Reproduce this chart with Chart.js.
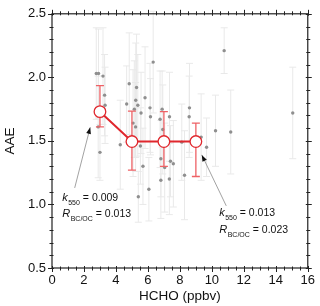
<!DOCTYPE html>
<html>
<head>
<meta charset="utf-8">
<script src="https://cdn.jsdelivr.net/npm/chart.js@4"></script>
<style>
  html, body { margin: 0; padding: 0; background: #fff; }
  #wrap { width: 320px; height: 306px; position: relative; }
</style>
</head>
<body>
<div id="wrap"><canvas id="chart"></canvas></div>
<script>
// ─── Data ─────────────────────────────────────────────────────

// individual samples (gray points with error bars)
const sampleX = [2.77, 2.91, 3.19, 3.29, 3.32, 2.89, 3.0, 4.83, 5.29, 4.67,
  5.24, 5.37, 5.15, 5.07, 5.23, 5.53, 4.27, 5.82, 6.13, 6.16,
  6.33, 5.57, 6.89, 6.76, 6.93, 7.35, 8.60, 8.58, 10.23, 11.18,
  9.33, 9.67, 8.12, 10.77, 15.06, 6.81, 7.41, 7.59, 7.05, 6.81,
  7.34, 8.29, 6.06, 5.69, 5.40];
const sampleY = [2.03, 2.03, 2.01, 1.86, 1.78, 1.61, 1.41, 1.95, 1.92, 1.79,
  1.82, 1.78, 1.75, 1.64, 1.61, 1.46, 1.47, 1.84, 1.76, 1.69,
  2.12, 1.72, 1.75, 1.67, 1.59, 1.69, 1.76, 1.69, 1.58, 1.57,
  1.53, 1.45, 1.49, 2.21, 1.72, 1.36, 1.34, 1.32, 1.29, 1.19,
  1.20, 1.23, 1.12, 1.30, 1.06];
const sampleErr = [0.36, 0.35, 0.38, 0.32, 0.30, 0.40, 0.22, 0.40, 0.42, 0.30,
  0.45, 0.40, 0.38, 0.42, 0.35, 0.30, 0.35, 0.40, 0.35, 0.30,
  0.40, 0.32, 0.30, 0.38, 0.35, 0.35, 0.35, 0.32, 0.28, 0.33,
  0.34, 0.23, 0.30, 0.18, 0.36, 0.30, 0.28, 0.34, 0.35, 0.30,
  0.28, 0.35, 0.25, 0.30, 0.20];

// binned means (red)
const binX = [3, 5, 7, 9];
const binY = [1.73, 1.495, 1.495, 1.495];
const binHigh = [1.935, 1.735, 1.73, 1.64];
const binLow = [1.61, 1.27, 1.30, 1.22];

// axis ranges / ticks
const xMin = 0, xMax = 16, xMajor = 2, xMinor = 0.5;
const yMin = 0.5, yMax = 2.5, yMajor = 0.5, yMinor = 0.1;

// annotations: text position (data units), values, arrow tail/head
const notes = [
  { x: 0.64, y1: 1.027, y2: 0.898, k: "0.009", r: "0.013", tail: [1.42, 1.13], head: [2.39, 1.607] },
  { x: 10.46, y1: 0.906, y2: 0.775, k: "0.013", r: "0.023", tail: [10.9, 0.989], head: [9.37, 1.39] },
];

const FONT = "'Liberation Sans', Arial, sans-serif";
const RED = "#e0272d";
const RED_BAR = "#ee6266";

// ─── Plugins ──────────────────────────────────────────────────

function vbar(ctx, x, yTop, yBot, cap) {
  ctx.beginPath();
  ctx.moveTo(x, yTop); ctx.lineTo(x, yBot);
  ctx.moveTo(x - cap, yTop); ctx.lineTo(x + cap, yTop);
  ctx.moveTo(x - cap, yBot); ctx.lineTo(x + cap, yBot);
  ctx.stroke();
}

const errorBars = {
  id: "errorBars",
  beforeDatasetsDraw(chart) {
    const { ctx, scales: { x, y } } = chart;
    ctx.save();
    ctx.strokeStyle = "#e9e9e9";
    ctx.lineWidth = 1;
    sampleX.forEach((v, i) => {
      vbar(ctx, x.getPixelForValue(v),
        y.getPixelForValue(sampleY[i] + sampleErr[i]),
        y.getPixelForValue(sampleY[i] - sampleErr[i]), 3.5);
    });
    ctx.restore();
  },
  afterDatasetDraw(chart, args) {
    if (args.index !== 1) return;
    const { ctx, scales: { x, y } } = chart;
    ctx.save();
    ctx.strokeStyle = RED_BAR;
    ctx.lineWidth = 1.3;
    binX.forEach((v, i) => {
      vbar(ctx, x.getPixelForValue(v),
        y.getPixelForValue(binHigh[i]), y.getPixelForValue(binLow[i]), 4);
    });
    ctx.restore();
  },
};

const frameTicks = {
  id: "frameTicks",
  afterDraw(chart) {
    const { ctx, chartArea: a, scales: { x, y } } = chart;
    ctx.save();
    ctx.strokeStyle = "#222";
    ctx.lineWidth = 1.2;
    ctx.strokeRect(a.left, a.top, a.right - a.left, a.bottom - a.top);
    ctx.lineWidth = 1;
    ctx.beginPath();
    for (let v = xMin; v <= xMax + 1e-6; v += xMinor) {
      const px = Math.round(x.getPixelForValue(v)) + 0.5;
      const major = Math.abs(v / xMajor - Math.round(v / xMajor)) < 1e-6;
      const o = major ? 4 : 2.5, inn = major ? 2 : 1.5;
      ctx.moveTo(px, a.bottom + o); ctx.lineTo(px, a.bottom - inn);
      ctx.moveTo(px, a.top - o); ctx.lineTo(px, a.top + inn);
    }
    for (let v = yMin; v <= yMax + 1e-6; v += yMinor) {
      const py = Math.round(y.getPixelForValue(v)) + 0.5;
      const major = Math.abs(v / yMajor - Math.round(v / yMajor)) < 1e-6;
      const o = major ? 4 : 2.5, inn = major ? 2 : 1.5;
      ctx.moveTo(a.left - o, py); ctx.lineTo(a.left + inn, py);
      ctx.moveTo(a.right + o, py); ctx.lineTo(a.right - inn, py);
    }
    ctx.stroke();

    // annotations
    notes.forEach((n) => {
      const tx = x.getPixelForValue(n.tail[0]), ty = y.getPixelForValue(n.tail[1]);
      const hx = x.getPixelForValue(n.head[0]), hy = y.getPixelForValue(n.head[1]);
      ctx.strokeStyle = "#8a8a8a";
      ctx.lineWidth = 0.8;
      ctx.beginPath(); ctx.moveTo(tx, ty); ctx.lineTo(hx, hy); ctx.stroke();
      const ang = Math.atan2(hy - ty, hx - tx);
      ctx.fillStyle = "#111";
      ctx.beginPath();
      ctx.moveTo(hx, hy);
      ctx.lineTo(hx - 7 * Math.cos(ang - 0.35), hy - 7 * Math.sin(ang - 0.35));
      ctx.lineTo(hx - 7 * Math.cos(ang + 0.35), hy - 7 * Math.sin(ang + 0.35));
      ctx.closePath(); ctx.fill();

      const lx = x.getPixelForValue(n.x);
      drawNote(ctx, lx, y.getPixelForValue(n.y1), "k", "550", " = " + n.k);
      drawNote(ctx, lx, y.getPixelForValue(n.y2), "R", "BC/OC", " = " + n.r);
    });
    ctx.restore();
  },
};

function drawNote(ctx, x, base, sym, sub, rest) {
  ctx.fillStyle = "#111";
  ctx.textBaseline = "alphabetic";
  ctx.textAlign = "left";
  ctx.font = "italic 11px " + FONT;
  ctx.fillText(sym, x, base);
  let cx = x + ctx.measureText(sym).width + 0.5;
  ctx.font = "7px " + FONT;
  ctx.fillText(sub, cx, base + 3.5);
  cx += ctx.measureText(sub).width;
  ctx.font = "10.5px " + FONT;
  ctx.fillText(rest, cx, base);
}

// ─── Chart ────────────────────────────────────────────────────

const ctx = document.getElementById("chart").getContext("2d");
new Chart(ctx, {
  type: "scatter",
  data: {
    datasets: [
      {
        data: binX.map((v, i) => ({ x: v, y: binY[i] })),
        showLine: true,
        borderColor: RED,
        borderWidth: 2,
        pointRadius: 5.8,
        pointBackgroundColor: "#fff",
        pointBorderColor: RED,
        pointBorderWidth: 1.3,
      },
      {
        data: sampleX.map((v, i) => ({ x: v, y: sampleY[i] })),
        pointRadius: 1.7,
        pointBackgroundColor: "#8f8f8f",
        pointBorderWidth: 0,
      },
    ],
  },
  options: {
    responsive: true,
    maintainAspectRatio: false,
    animation: false,
    events: [],
    layout: { padding: { top: 9, right: 9.5, left: 0, bottom: 0 } },
    plugins: { legend: { display: false }, tooltip: { enabled: false } },
    scales: {
      x: {
        type: "linear",
        min: xMin, max: xMax,
        grid: { display: false, drawTicks: false },
        border: { display: false },
        ticks: { stepSize: xMajor, color: "#111", font: { family: FONT, size: 13 }, padding: 5, maxRotation: 0 },
        title: { display: true, text: "HCHO (ppbv)", color: "#111", font: { family: FONT, size: 13.5 }, padding: { top: 0, bottom: 2 } },
        afterFit: (s) => { s.height = 38; },
      },
      y: {
        type: "linear",
        min: yMin, max: yMax,
        grid: { display: false, drawTicks: false },
        border: { display: false },
        ticks: { stepSize: yMajor, color: "#111", font: { family: FONT, size: 13 }, padding: 6,
          callback: (v) => v.toFixed(1) },
        title: { display: true, text: "AAE", color: "#111", font: { family: FONT, size: 13.5 }, padding: { top: 2, bottom: 0 } },
        afterFit: (s) => { s.width = 52; },
      },
    },
  },
  plugins: [errorBars, frameTicks],
});
</script>
</body>
</html>
